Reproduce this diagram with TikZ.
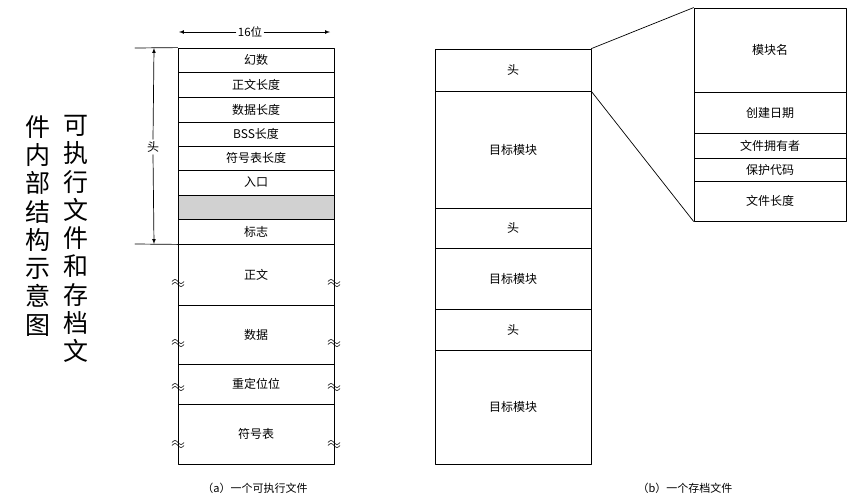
\documentclass[tikz,border=0pt]{standalone}
\usepackage{fontspec}
\setmainfont{Noto Sans CJK SC}

\begin{document}
\begin{tikzpicture}[x=1pt,y=-1pt,line cap=round,line join=round,
    cell/.style={draw,line width=0.8pt,inner sep=0pt,font=\fontsize{12}{14}\selectfont},
    plain/.style={},
    stipple/.style={fill=black!18},
    brk/.style={line width=0.6pt},
    vtext/.style={align=center,inner sep=0pt,anchor=north,font=\fontsize{25}{28.3}\selectfont}]
        \useasboundingbox (0,0) rectangle (866,501);

        \foreach \ya/\yb/\nm/\st/\txt in {48/72/a1/plain/幻数, 72/97/a2/plain/正文长度,
            97/122/a3/plain/数据长度, 122/146/a4/plain/BSS长度, 146/170/a5/plain/符号表长度,
            170/195/a6/plain/入口, 195/219/a7/stipple/, 219/244/a8/plain/标志,
            244/305/a9/plain/正文, 305/364/a10/plain/数据, 364/404/a11/plain/重定位位,
            404/464/a12/plain/符号表} {
            \pgfmathsetmacro\hh{\yb-\ya}
            \node[cell,\st,minimum width=156pt,minimum height=\hh pt] (\nm) at (256,{(\ya+\yb)/2}) {\txt};
        }

        \foreach \ya/\yb/\nm/\txt in {49/91/b1/头, 91/208/b2/目标模块, 208/248/b3/头,
            248/309/b4/目标模块, 309/350/b5/头, 350/464/b6/目标模块} {
            \pgfmathsetmacro\hh{\yb-\ya}
            \node[cell,minimum width=156pt,minimum height=\hh pt] (\nm) at (513,{(\ya+\yb)/2}) {\txt};
        }

        \foreach \ya/\yb/\nm/\txt in {8/92/d1/模块名, 92/133/d2/创建日期, 133/158/d3/文件拥有者,
            158/181/d4/保护代码, 181/221/d5/文件长度} {
            \pgfmathsetmacro\hh{\yb-\ya}
            \node[cell,minimum width=152pt,minimum height=\hh pt] (\nm) at (770,{(\ya+\yb)/2}) {\txt};
        }

        \draw[line width=0.7pt] (b1.north east) -- (d1.north west);
        \draw[line width=0.7pt] (b1.south east) -- (d5.south west);

        \foreach \y in {283,343,387,444} {
            \foreach \x in {178,334} {
                \draw[brk] (\x-6,\y-1.5) sin (\x-3,\y-3.5) cos (\x,\y-1.5) sin (\x+3,\y+0.5) cos (\x+6,\y-1.5);
                \draw[brk] (\x-6,\y+1.5) sin (\x-3,\y-0.5) cos (\x,\y+1.5) sin (\x+3,\y+3.5) cos (\x+6,\y+1.5);
            }
        }

        \node[font=\fontsize{11.5}{13}\selectfont,fill=white,inner sep=2pt] (bits) at (250,32) {16位};
        \coordinate (bitsl) at (179,32);
        \coordinate (bitsr) at (330,32);
        \draw[-latex,line width=0.7pt] (bits.west) -- (bitsl);
        \draw[-latex,line width=0.7pt] (bits.east) -- (bitsr);

        \coordinate (hdt) at (154,48);
        \coordinate (hdb) at (154,244);
        \draw[line width=0.7pt] (135,48) -- (a1.north west);
        \draw[line width=0.7pt] (135,244) -- (a8.south west);
        \node[font=\fontsize{12}{14}\selectfont,inner sep=2pt] (hd) at (153,147) {头};
        \draw[-latex,line width=0.7pt] (hd.north) -- (hdt);
        \draw[-latex,line width=0.7pt] (hd.south) -- (hdb);

        \node[font=\fontsize{11}{13}\selectfont] (capa) at (255,488) {（a）一个可执行文件};
        \node[font=\fontsize{11}{13}\selectfont] (capb) at (685,488) {（b）一个存档文件};

        \node[vtext] (colr) at (76,115) {可\\执\\行\\文\\件\\和\\存\\档\\文};
        \node[vtext] (coll) at (38,115) {件\\内\\部\\结\\构\\示\\意\\图};
    \end{tikzpicture}
\end{document}
